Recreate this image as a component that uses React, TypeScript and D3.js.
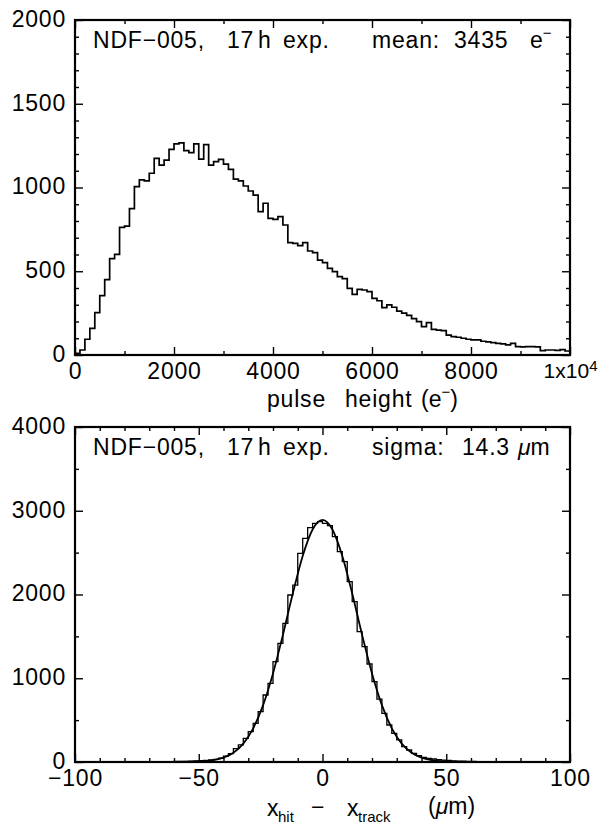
import React, { useEffect, useRef } from 'react';
import * as d3 from 'd3';

const width = 598;
const height = 824;
const font = '"Liberation Sans", Arial, sans-serif';
const fontSize = 23;
const spacing = 0.8;

// pulse height spectrum, bins of 100 e- from 0 to 1e4
const phBin = 100;
const phCounts = [
  10, 30, 94, 159, 253, 354, 450, 575, 601, 762,
  770, 874, 1005, 1045, 1040, 1085, 1174, 1134, 1164, 1228,
  1260, 1267, 1220, 1208, 1260, 1170, 1256, 1134, 1154, 1168,
  1140, 1108, 1050, 1039, 1009, 979, 955, 856, 906, 816,
  810, 826, 776, 671, 667, 653, 671, 621, 611, 567,
  551, 517, 498, 468, 456, 398, 362, 392, 388, 378,
  338, 324, 283, 299, 285, 262, 250, 237, 217, 199,
  169, 193, 153, 149, 145, 119, 110, 106, 100, 94,
  90, 90, 82, 78, 74, 70, 66, 60, 70, 50,
  48, 50, 50, 48, 26, 30, 30, 28, 32, 24,
];
const phXMajor = [0, 2000, 4000, 6000, 8000, 10000];
const phXMinor = [1000, 3000, 5000, 7000, 9000];
const phYMajor = [0, 500, 1000, 1500, 2000];

// residuals x_hit - x_track, bins of 2 um from -100 to 100
const resBin = 2;
const resStart = -100;
const resCounts = [
  0, 1, 0, 1, 1, 0, 1, 2, 1, 1,
  2, 1, 2, 3, 2, 3, 4, 3, 4, 5,
  6, 7, 8, 10, 12, 15, 20, 26, 32, 45,
  70, 100, 160, 205, 283, 362, 462, 601, 800, 940,
  1198, 1417, 1656, 1994, 2113, 2492, 2671, 2798, 2850, 2869,
  2850, 2822, 2690, 2511, 2392, 2153, 1914, 1556, 1377, 1170,
  960, 750, 580, 442, 342, 263, 183, 143, 104, 76,
  56, 44, 36, 28, 22, 18, 14, 11, 9, 7,
  6, 5, 4, 4, 3, 3, 2, 3, 2, 2,
  2, 1, 2, 1, 1, 1, 0, 1, 1, 0,
];
// gaussian fit curve
const fitX = [-100, -70, -60, -52, -48, -44, -40, -36, -32, -28, -24, -20, -16, -12, -8, -4, 0,
  4, 8, 12, 16, 20, 24, 28, 32, 36, 40, 44, 48, 52, 60, 70, 100];
const fitY = [0, 0, 1, 3, 9, 22, 52, 111, 220, 402, 679, 1057, 1518, 2012, 2460, 2776, 2890,
  2776, 2460, 2012, 1518, 1057, 679, 402, 220, 111, 52, 22, 9, 3, 1, 0, 0];
const resXMajor = [-100, -50, 0, 50, 100];
const resXMinor = d3.range(-90, 100, 10).filter(v => v % 50 !== 0);
const resYMajor = [0, 1000, 2000, 3000, 4000];
const resYMinor = [500, 1500, 2500, 3500];

function styleAxis(sel) {
  sel.attr('font-family', null).attr('font-size', null);
  sel.select('.domain').remove();
  sel.selectAll('line').attr('stroke', '#000').attr('stroke-width', 1.4);
  sel.selectAll('text').attr('font-family', font).attr('font-size', fontSize)
    .attr('letter-spacing', spacing).attr('fill', '#000');
}

function drawFrame(g, x, y, o) {
  const [xl, xr] = x.range();
  const [yb, yt] = y.range();
  const ax = (gen, tr, vals, len, fmt, pad) =>
    g.append('g').attr('transform', tr)
      .call(gen.tickValues(vals).tickSize(-len).tickPadding(pad || 3).tickFormat(fmt || (() => '')))
      .call(styleAxis);

  ax(d3.axisBottom(x), `translate(0,${yb})`, o.xMinor, 4);
  const bx = ax(d3.axisBottom(x), `translate(0,${yb})`, o.xMajor, 8, o.xFmt, 8);
  ax(d3.axisTop(x), `translate(0,${yt})`, o.xMinor, 4);
  ax(d3.axisTop(x), `translate(0,${yt})`, o.xMajor, 8);
  ax(d3.axisLeft(y), `translate(${xl},0)`, o.yMinor, 4);
  const by = ax(d3.axisLeft(y), `translate(${xl},0)`, o.yMajor, 8, d3.format('d'), 9);
  by.selectAll('text').attr('dy', '0.28em');
  ax(d3.axisRight(y), `translate(${xr},0)`, o.yMinor, 4);
  ax(d3.axisRight(y), `translate(${xr},0)`, o.yMajor, 8);

  g.append('rect')
    .attr('x', xl).attr('y', yt)
    .attr('width', xr - xl).attr('height', yb - yt)
    .attr('fill', 'none').attr('stroke', '#000').attr('stroke-width', 2.2);
  return bx;
}

function addWords(g, words, y) {
  g.append('g')
    .attr('font-family', font).attr('font-size', fontSize).attr('fill', '#000')
    .attr('letter-spacing', spacing)
    .selectAll('text').data(words).join('text')
    .attr('x', d => d[1]).attr('y', y)
    .text(d => d[0]);
}

export default function App() {
  const ref = useRef(null);

  useEffect(() => {
    const svg = d3.select(ref.current);
    svg.selectAll('*').remove();

    // ---- top panel: pulse height ----
    const x1 = d3.scaleLinear().domain([0, 10000]).range([75, 570]);
    const y1 = d3.scaleLinear().domain([0, 2000]).range([355, 20]);
    const top = svg.append('g');

    const phPts = phCounts.map((c, i) => [i * phBin, c]);
    phPts.push([phCounts.length * phBin, phCounts[phCounts.length - 1]]);
    top.append('path')
      .attr('d', d3.line().x(d => x1(d[0])).y(d => y1(d[1])).curve(d3.curveStepAfter)(phPts))
      .attr('fill', 'none').attr('stroke', '#000').attr('stroke-width', 1.7);

    const bx1 = drawFrame(top, x1, y1, {
      xMajor: phXMajor, xMinor: phXMinor,
      yMajor: phYMajor, yMinor: d3.range(100, 2000, 100).filter(v => v % 500 !== 0),
      xFmt: d => (d === 10000 ? '1x10' : String(d)),
    });
    const big = bx1.selectAll('.tick text').filter(d => d === 10000)
      .attr('text-anchor', 'end').attr('x', 27).attr('font-size', 21).attr('letter-spacing', 0);
    big.append('tspan').attr('dy', '-0.45em').attr('font-size', 15).text('4');

    addWords(top, [['NDF\u2212005,', 93], ['17', 227], ['h', 258], ['exp.', 283],
      ['mean:', 372], ['3435', 454]], 48);
    const e1 = top.append('text').attr('x', 530).attr('y', 48)
      .attr('font-family', font).attr('font-size', fontSize).text('e');
    e1.append('tspan').attr('dy', -10).attr('font-size', 15).text('\u2212');

    addWords(top, [['pulse', 267], ['height', 345]], 407);
    const pl = top.append('text').attr('x', 421).attr('y', 407)
      .attr('font-family', font).attr('font-size', fontSize).text('(e');
    pl.append('tspan').attr('dy', -10).attr('font-size', 15).text('\u2212');
    pl.append('tspan').attr('dy', 10).text(')');

    // ---- bottom panel: residuals ----
    const x2 = d3.scaleLinear().domain([-100, 100]).range([75, 570]);
    const y2 = d3.scaleLinear().domain([0, 4000]).range([762, 427]);
    const bot = svg.append('g');

    const rPts = resCounts.map((c, i) => [resStart + i * resBin, c]);
    rPts.push([resStart + resCounts.length * resBin, resCounts[resCounts.length - 1]]);
    bot.append('path')
      .attr('d', d3.line().x(d => x2(d[0])).y(d => y2(d[1])).curve(d3.curveStepAfter)(rPts))
      .attr('fill', 'none').attr('stroke', '#000').attr('stroke-width', 1.3);

    const fit = fitX.map((v, i) => [v, fitY[i]]);
    bot.append('path')
      .attr('d', d3.line().x(d => x2(d[0])).y(d => y2(d[1])).curve(d3.curveMonotoneX)(fit))
      .attr('fill', 'none').attr('stroke', '#000').attr('stroke-width', 1.8);

    drawFrame(bot, x2, y2, {
      xMajor: resXMajor, xMinor: resXMinor,
      yMajor: resYMajor, yMinor: resYMinor,
      xFmt: d3.format('d'),
    });

    addWords(bot, [['NDF\u2212005,', 93], ['17', 227], ['h', 258], ['exp.', 283],
      ['sigma:', 372], ['14.3', 462]], 455);
    const mu = bot.append('text').attr('x', 518).attr('y', 455)
      .attr('font-family', font).attr('font-size', fontSize);
    mu.append('tspan').attr('font-style', 'italic').text('\u03bc');
    mu.append('tspan').text('m');

    const xl = bot.append('g').attr('font-family', font).attr('fill', '#000');
    xl.append('text').attr('x', 267).attr('y', 816).attr('font-size', fontSize).text('x');
    xl.append('text').attr('x', 278).attr('y', 822).attr('font-size', 15).text('hit');
    xl.append('text').attr('x', 311).attr('y', 815).attr('font-size', fontSize).text('\u2212');
    xl.append('text').attr('x', 347).attr('y', 816).attr('font-size', fontSize).text('x');
    xl.append('text').attr('x', 358).attr('y', 822).attr('font-size', 15).text('track');
    const um = xl.append('text').attr('x', 428).attr('y', 814).attr('font-size', fontSize);
    um.append('tspan').text('(');
    um.append('tspan').attr('font-style', 'italic').text('\u03bc');
    um.append('tspan').text('m)');
  }, []);

  return (
    <svg ref={ref} width={width} height={height}
      style={{ position: 'absolute', left: 0, top: 0, background: '#fff' }} />
  );
}
